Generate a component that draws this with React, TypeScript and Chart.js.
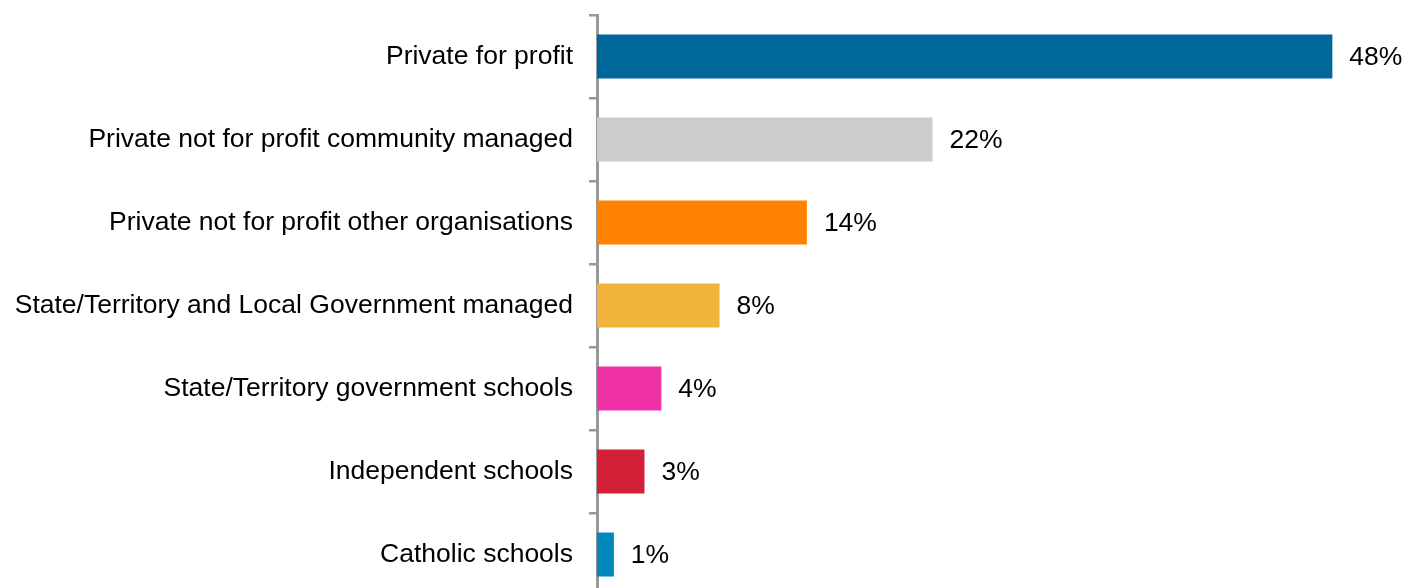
import React, { useEffect, useRef } from "react";
import { Chart, registerables } from "chart.js";

Chart.register(...registerables);

const categories = [
  "Private for profit",
  "Private not for profit community managed",
  "Private not for profit other organisations",
  "State/Territory and Local Government managed",
  "State/Territory government schools",
  "Independent schools",
  "Catholic schools",
];
const values = [48, 21.9, 13.7, 8.0, 4.2, 3.1, 1.1];
const barColors = ["#00679A", "#CCCCCC", "#FF8200", "#F0B43C", "#EF33A7", "#D42037", "#0088BB"];

const FONT = "'Liberation Sans', Arial, Helvetica, sans-serif";
const FONT_SIZE = 26.5;

const valueLabels = {
  id: "valueLabels",
  afterDatasetsDraw(chart: any) {
    const ctx = chart.ctx;
    const meta = chart.getDatasetMeta(0);
    ctx.save();
    ctx.font = `${FONT_SIZE}px ${FONT}`;
    ctx.fillStyle = "#000";
    ctx.textAlign = "left";
    ctx.textBaseline = "middle";
    meta.data.forEach((bar: any, i: number) => {
      const v = chart.data.datasets[0].data[i] as number;
      ctx.fillText(Math.round(v) + "%", bar.x + 17, bar.y + 1);
    });
    ctx.restore();
  },
};

export default function App() {
  const ref = useRef<HTMLCanvasElement>(null);
  useEffect(() => {
    if (!ref.current) return;
    const chart = new Chart(ref.current, {
      type: "bar",
      data: {
        labels: categories,
        datasets: [
          {
            data: values,
            backgroundColor: barColors,
            borderWidth: 0,
            categoryPercentage: 1,
            barPercentage: 0.53,
          },
        ],
      },
      options: {
        indexAxis: "y",
        animation: false,
        responsive: false,
        maintainAspectRatio: false,
        devicePixelRatio: 1,
        layout: { padding: { top: 15, bottom: 4, left: 0, right: 42 } },
        plugins: { legend: { display: false }, tooltip: { enabled: false } },
        scales: {
          x: { display: false, min: 0, max: 50 },
          y: {
            z: 1,
            afterFit(scale: any) {
              scale.width = 597;
              scale.paddingTop = 0;
              scale.paddingBottom = 0;
            },
            grid: {
              drawOnChartArea: false,
              drawTicks: true,
              tickLength: 8,
              color: "#999999",
              lineWidth: 2.5,
              offset: true,
            },
            border: { color: "#999999", width: 3 },
            ticks: {
              color: "#000",
              padding: 16,
              font: { family: FONT, size: FONT_SIZE },
            },
          },
        },
      },
      plugins: [valueLabels],
    });
    return () => chart.destroy();
  }, []);
  return (
    <div style={{ position: "fixed", left: 0, top: 0, width: 1405, height: 588, overflow: "hidden", background: "#fff" }}>
      <canvas ref={ref} width={1405} height={600} style={{ display: "block" }} />
    </div>
  );
}
